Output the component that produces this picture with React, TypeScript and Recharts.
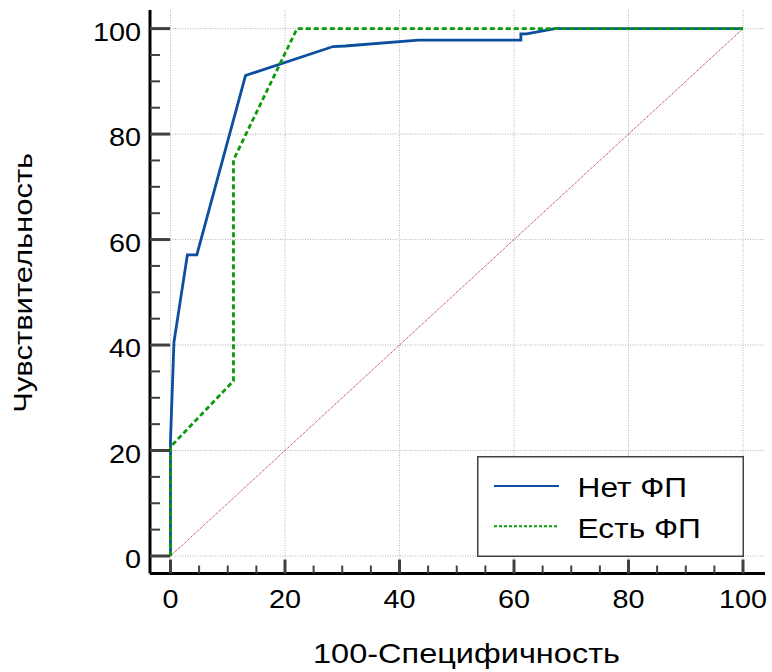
import React from 'react';
import {
  LineChart, Line, XAxis, YAxis, ReferenceLine, Legend,
} from 'recharts';

// ROC curves, values
const noAfX = [0, 0, 0.6, 2.95, 4.6, 13.1, 28.4, 30.5, 43.3, 61.2, 61.2, 62.2, 67.2, 100];
const noAfY = [0, 22, 40.5, 57.1, 57.1, 91.1, 96.6, 96.7, 97.8, 97.8, 99.0, 99.0, 100, 100];

const afX = [0, 0, 11.0, 11.0, 22.1, 100];
const afY = [0, 20.7, 33.2, 75.1, 100, 100];

const diagX = [0, 100];
const diagY = [0, 100];

const majorTicks = [0, 20, 40, 60, 80, 100];
const allTicks = [0, 5, 10, 15, 20, 25, 30, 35, 40, 45, 50, 55, 60, 65, 70, 75, 80, 85, 90, 95, 100];

const X_TITLE = '100-Специфичность';
const Y_TITLE = 'Чувствительность';

const FONT = '"Liberation Sans", Arial, sans-serif';

const series = [
  { name: 'Нет ФП', color: '#0b4f9e', dash: undefined as string | undefined, width: 2.8, legendDash: undefined as string | undefined },
  { name: 'Есть ФП', color: '#0a9a0a', dash: '5 3', width: 2.8, legendDash: '3 2' },
];

const zip = (xs: number[], ys: number[]) => xs.map((x, i) => ({ x, y: ys[i] }));

const noAfData = zip(noAfX, noAfY);
const afData = zip(afX, afY);
const diagData = zip(diagX, diagY);

function YTick(props: any) {
  const { x, y, payload } = props;
  const major = majorTicks.includes(payload.value);
  return (
    <g>
      <line x1={x} x2={x + (major ? 20 : 10)} y1={y} y2={y} stroke="#404040" strokeWidth={major ? 3 : 2} />
      {major && (
        <text
          transform={`translate(${x - 9},${y + 12}) scale(1.13,1)`}
          textAnchor="end" fontSize={25.5} fontFamily={FONT} fill="#000"
        >
          {payload.value}
        </text>
      )}
    </g>
  );
}

function XTick(props: any) {
  const { x, y, payload } = props;
  const major = majorTicks.includes(payload.value);
  return (
    <g>
      <line x1={x} x2={x} y1={y} y2={y - (major ? 14 : 8)} stroke="#404040" strokeWidth={major ? 3 : 2} />
      {major && (
        <text
          transform={`translate(${x},${y + 34}) scale(1.13,1)`}
          textAnchor="middle" fontSize={25.5} fontFamily={FONT} fill="#000"
        >
          {payload.value}
        </text>
      )}
    </g>
  );
}

function XTitle(props: any) {
  const vb = props.viewBox;
  return (
    <text
      x={vb.x + vb.width / 2 + 9} y={vb.y + 89.5}
      textAnchor="middle" fontSize={28.5} fontFamily={FONT} fill="#000"
      textLength={307} lengthAdjust="spacingAndGlyphs"
    >
      {X_TITLE}
    </text>
  );
}

function YTitle(props: any) {
  const vb = props.viewBox;
  const cy = vb.y + vb.height / 2 - 9;
  return (
    <text
      transform={`translate(32,${cy}) rotate(-90)`}
      textAnchor="middle" fontSize={26} fontFamily={FONT} fill="#000"
      textLength={260} lengthAdjust="spacingAndGlyphs"
    >
      {Y_TITLE}
    </text>
  );
}

function LegendBox(props: any) {
  const payload = props.payload || [];
  const items = series.filter((s) => payload.some((p: any) => p.value === s.name));
  return (
    <svg width={267} height={101} style={{ display: 'block' }}>
      <rect x={0.75} y={0.75} width={265.5} height={99.5} fill="#fff" stroke="#404040" strokeWidth={1.5} />
      {items.map((s, i) => {
        const cy = 30 + i * 40.3;
        return (
          <g key={s.name}>
            <line x1={17} x2={82} y1={cy} y2={cy} stroke={s.color} strokeWidth={2} strokeDasharray={s.legendDash} />
            <text
              transform={`translate(100.6,${cy + 11.3}) scale(1.13,1)`}
              fontSize={28} fontFamily={FONT} fill="#000"
            >
              {s.name}
            </text>
          </g>
        );
      })}
    </svg>
  );
}

export default function App() {
  return (
    <div style={{ position: 'absolute', left: 0, top: 0, background: '#fff' }}>
      <LineChart width={772} height={672} margin={{ top: 10, right: 7, left: 0, bottom: 0 }}>
        {majorTicks.map((v) => (
          <ReferenceLine key={`gx${v}`} x={v} stroke="#b4b4b4" strokeWidth={1} strokeDasharray="1 1.5" />
        ))}
        {majorTicks.map((v) => (
          <ReferenceLine key={`gy${v}`} y={v} stroke="#b4b4b4" strokeWidth={1} strokeDasharray="1 1.5" />
        ))}
        <XAxis
          type="number" dataKey="x" domain={[0, 100]} ticks={allTicks} interval={0}
          padding={{ left: 20.5, right: 22 }} height={98.5}
          tickSize={0} tickMargin={0} tickLine={false} tick={<XTick />}
          axisLine={{ stroke: '#000', strokeWidth: 3 }}
          label={<XTitle />}
        />
        <YAxis
          type="number" dataKey="y" domain={[0, 100]} ticks={allTicks} interval={0}
          padding={{ top: 18.6, bottom: 17.5 }} width={150}
          tickSize={0} tickMargin={0} tickLine={false} tick={<YTick />}
          axisLine={{ stroke: '#000', strokeWidth: 3 }}
          label={<YTitle />}
        />
        <Line
          data={diagData} dataKey="y" type="linear" stroke="#b52020" strokeWidth={1}
          strokeDasharray="1 1" dot={false} activeDot={false} legendType="none"
          isAnimationActive={false}
        />
        <Line
          name={series[0].name} data={noAfData} dataKey="y" type="linear"
          stroke={series[0].color} strokeWidth={series[0].width}
          dot={false} activeDot={false} isAnimationActive={false}
        />
        <Line
          name={series[1].name} data={afData} dataKey="y" type="linear"
          stroke={series[1].color} strokeWidth={series[1].width} strokeDasharray={series[1].dash}
          dot={false} activeDot={false} isAnimationActive={false}
        />
        <Legend
          layout="horizontal" verticalAlign="middle" align="center"
          content={<LegendBox />}
          wrapperStyle={{ position: 'absolute', left: 476.7, top: 455.7, width: 267, height: 101 }}
        />
      </LineChart>
    </div>
  );
}
